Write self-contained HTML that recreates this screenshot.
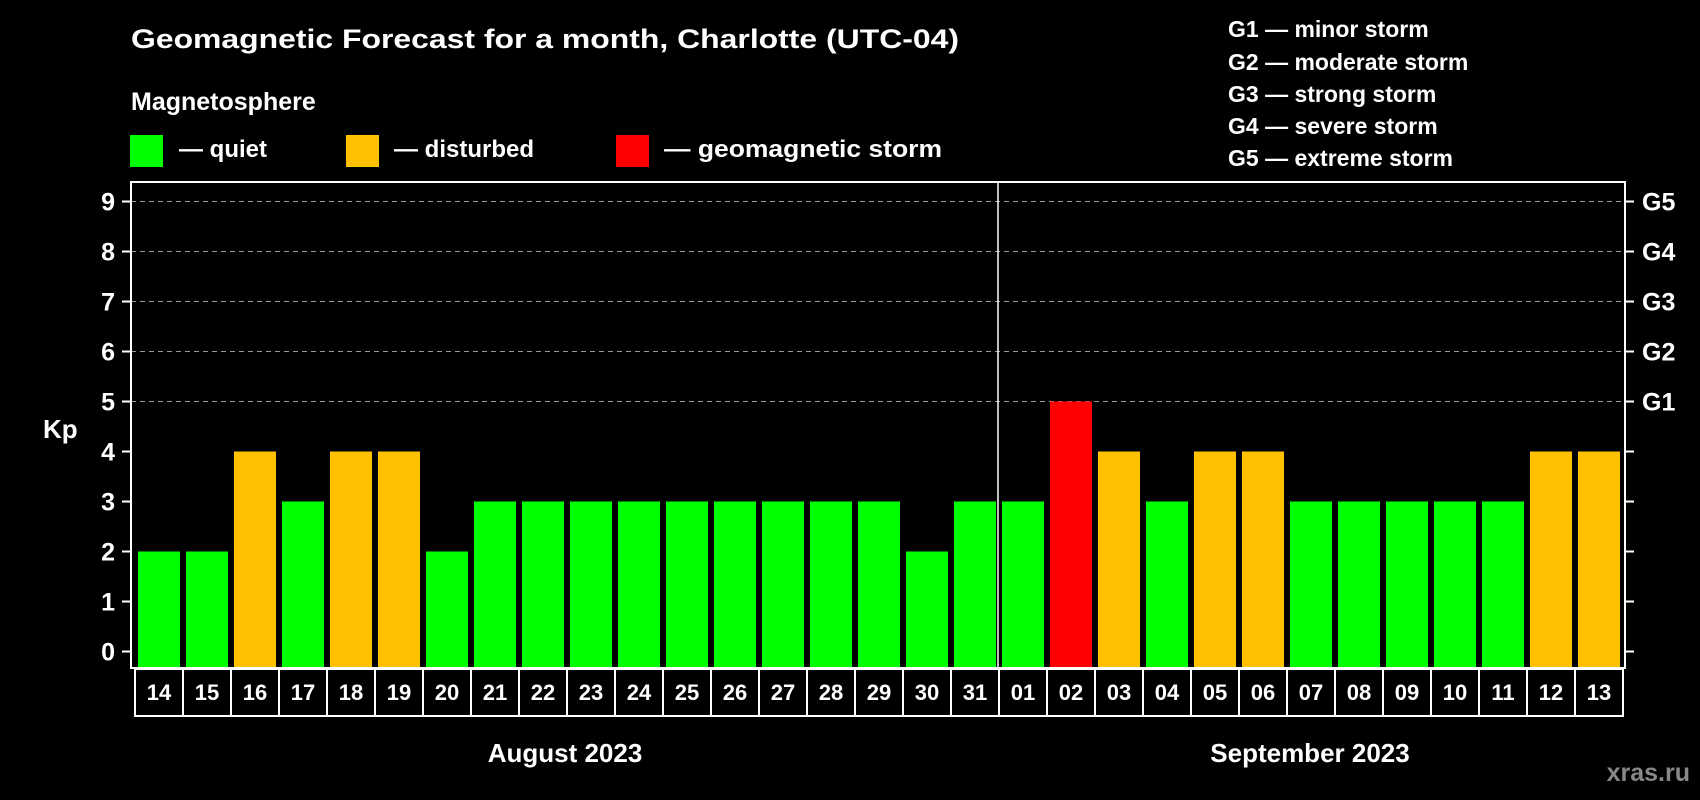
<!DOCTYPE html>
<html><head><meta charset="utf-8"><style>
html,body{margin:0;padding:0;background:#000;}
svg{display:block;font-family:"Liberation Sans",Arial,sans-serif;font-weight:bold;}
</style></head><body>
<svg id="chart" width="1700" height="800" viewBox="0 0 1700 800">
<rect x="0" y="0" width="1700" height="800" fill="#000"/>
<text x="131" y="48" font-size="27" fill="#fff" textLength="828" lengthAdjust="spacingAndGlyphs">Geomagnetic Forecast for a month, Charlotte (UTC-04)</text>
<text x="131" y="110" font-size="25" fill="#fff">Magnetosphere</text>
<g>
<rect x="130" y="135" width="33" height="32" fill="#00ff00"/>
<text x="179" y="157" font-size="24" fill="#fff">— quiet</text></g>
<g>
<rect x="346" y="135" width="33" height="32" fill="#ffc000"/>
<text x="394" y="157" font-size="24" fill="#fff">— disturbed</text></g>
<g>
<rect x="616" y="135" width="33" height="32" fill="#ff0000"/>
<text x="664" y="157" font-size="24" fill="#fff" textLength="278" lengthAdjust="spacingAndGlyphs">— geomagnetic storm</text></g>
<g font-size="23" fill="#fff">
<text x="1228" y="37">G1 — minor storm</text>
<text x="1228" y="70">G2 — moderate storm</text>
<text x="1228" y="102">G3 — strong storm</text>
<text x="1228" y="134">G4 — severe storm</text>
<text x="1228" y="166">G5 — extreme storm</text>
</g>
<text x="43" y="438" font-size="26" fill="#fff">Kp</text>
<g id="grid"></g><g id="bars"></g><g id="axes"></g><g id="xlabels"></g>
<text x="565" y="762" font-size="26" fill="#fff" text-anchor="middle">August 2023</text>
<text x="1310" y="762" font-size="26" fill="#fff" text-anchor="middle">September 2023</text>
<text x="1690" y="781" font-size="25" fill="#888" text-anchor="end">xras.ru</text>
</svg>
<script>
const days = ["14","15","16","17","18","19","20","21","22","23","24","25","26","27","28","29","30","31","01","02","03","04","05","06","07","08","09","10","11","12","13"];
const kpValues = [2,2,4,3,4,4,2,3,3,3,3,3,3,3,3,3,2,3,3,5,4,3,4,4,3,3,3,3,3,4,4];
const yTicks = [0,1,2,3,4,5,6,7,8,9];
const gLabels = ["G1","G2","G3","G4","G5"];
const gLevels = [5,6,7,8,9];
const monthSplitIndex = 18;

const NS="http://www.w3.org/2000/svg";
const X0=134, BW=48, FL=131, FR=1625, FT=182, FB=668;
const y=v=>651.5-v*50;
const x=i=>X0+i*BW;
function mk(tag,attrs,parent){const e=document.createElementNS(NS,tag);for(const k in attrs)e.setAttribute(k,attrs[k]);parent.appendChild(e);return e;}
const grid=document.getElementById('grid'),bars=document.getElementById('bars'),axes=document.getElementById('axes'),xl=document.getElementById('xlabels');
gLevels.forEach((lv,i)=>{
 const l=mk('line',{x1:FL,x2:FR,y1:y(lv),y2:y(lv),stroke:'#999','stroke-width':1,'stroke-dasharray':'5,4'},grid);
 
 
 const t=mk('text',{x:1642,y:y(lv)+9,'font-size':25,fill:'#fff'},axes);t.textContent=gLabels[i];
 
 
});
kpValues.forEach((v,i)=>{
 const c=v>=5?'#ff0000':(v>=4?'#ffc000':'#00ff00');
 const r=mk('rect',{x:x(i)+4,y:y(v),width:42,height:FB-y(v),fill:c},bars);
 
 
});
yTicks.forEach(v=>{
 const a=mk('line',{x1:122,x2:FL,y1:y(v),y2:y(v),stroke:'#fff','stroke-width':2},axes);
 
 
 const b=mk('line',{x1:FR,x2:1634,y1:y(v),y2:y(v),stroke:'#fff','stroke-width':2},axes);
 
 
 const t=mk('text',{x:115,y:y(v)+9,'font-size':25,fill:'#fff','text-anchor':'end'},axes);t.textContent=v;
 
 
});
const fr=mk('rect',{x:FL,y:FT,width:FR-FL,height:FB-FT,fill:'none',stroke:'#fff','stroke-width':2},axes);


const ms=mk('line',{x1:x(monthSplitIndex),x2:x(monthSplitIndex),y1:FT,y2:FB,stroke:'#fff','stroke-width':1.5},axes);


days.forEach((d,i)=>{
 const b=mk('rect',{x:x(i)+1,y:669,width:BW,height:47,fill:'#000',stroke:'#fff','stroke-width':2},xl);
 
 
 const t=mk('text',{x:x(i)+25,y:700,'font-size':22,fill:'#fff','text-anchor':'middle'},xl);t.textContent=d;
 
 
});
</script>
</body></html>
